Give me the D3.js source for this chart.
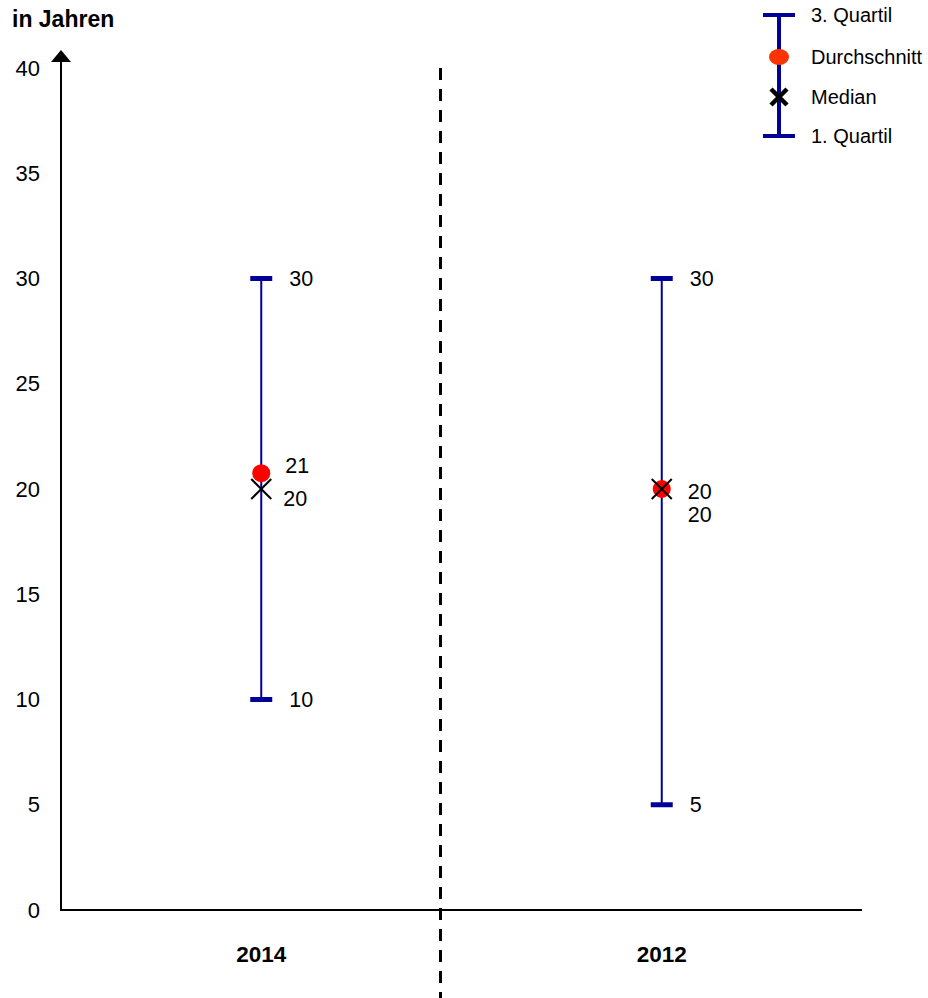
<!DOCTYPE html>
<html><head><meta charset="utf-8">
<script src="https://cdn.jsdelivr.net/npm/d3@7"></script>
<style>body{margin:0;background:#fff;} text{font-family:Arial,"Liberation Sans",sans-serif;}</style>
</head><body>
<svg id="c" width="928" height="998"></svg>
<script>
const categories = ["2014", "2012"];
const q1 = [10, 5];
const q3 = [30, 30];
const mean = [20.75, 20];
const median = [20, 20];
const meanLabels = ["21", "20"];
const medianLabels = ["20", "20"];
const yTicks = [0, 5, 10, 15, 20, 25, 30, 35, 40];

const svg = d3.select("#c");
const x = d3.scaleBand().domain(categories).range([61, 862]).paddingInner(0).paddingOuter(0);
const y = d3.scaleLinear().domain([0, 40]).range([910, 68]);
const navy = "#000099";

// y axis tick labels
svg.append("g").selectAll("text").data(yTicks).join("text")
  .attr("x", 40).attr("y", d => y(d)).attr("dy", "0.35em")
  .attr("text-anchor", "end").attr("font-size", 22).text(d => d);

// axes lines
svg.append("line").attr("x1", 61).attr("x2", 61).attr("y1", 58).attr("y2", y(0)).attr("stroke", "#000").attr("stroke-width", 2);
svg.append("path").attr("d", "M61,50 L51,62 L71,62 Z").attr("fill", "#000");
svg.append("line").attr("x1", 60).attr("x2", 862).attr("y1", y(0)).attr("y2", y(0)).attr("stroke", "#000").attr("stroke-width", 2);

// dashed separator
const sepX = x("2012") - 21;
svg.append("line").attr("x1", sepX).attr("x2", sepX).attr("y1", 68).attr("y2", 998)
  .attr("stroke", "#000").attr("stroke-width", 3).attr("stroke-dasharray", "12,9");

svg.append("text").attr("x", 12).attr("y", 27).attr("font-size", 23).attr("font-weight", "bold").text("in Jahren");

// category labels
svg.append("g").selectAll("text").data(categories).join("text")
  .attr("x", d => x(d) + x.bandwidth()/2).attr("y", 962).attr("text-anchor", "middle")
  .attr("font-size", 22.5).attr("font-weight", "bold").text(d => d);

const data = categories.map((c, i) => ({c, q1: q1[i], q3: q3[i], mean: mean[i], median: median[i], ml: meanLabels[i], mdl: medianLabels[i]}));
const cx = d => x(d.c) + x.bandwidth()/2;

const g = svg.append("g").selectAll("g").data(data).join("g");
g.append("line").attr("x1", cx).attr("x2", cx).attr("y1", d => y(d.q3)).attr("y2", d => y(d.q1)).attr("stroke", navy).attr("stroke-width", 2);
g.append("line").attr("x1", d => cx(d)-11).attr("x2", d => cx(d)+11).attr("y1", d => y(d.q3)).attr("y2", d => y(d.q3)).attr("stroke", navy).attr("stroke-width", 5);
g.append("line").attr("x1", d => cx(d)-11).attr("x2", d => cx(d)+11).attr("y1", d => y(d.q1)).attr("y2", d => y(d.q1)).attr("stroke", navy).attr("stroke-width", 5);
g.append("circle").attr("cx", cx).attr("cy", d => y(d.mean)).attr("r", 9).attr("fill", "#ff0000");
g.append("path").attr("d", d => { const X = cx(d), Y = y(d.median), s = 10; return `M${X-s},${Y-s}L${X+s},${Y+s}M${X-s},${Y+s}L${X+s},${Y-s}`; })
  .attr("stroke", "#000").attr("stroke-width", 2).attr("fill", "none");

// value labels
const fs = 21.5;
g.append("text").attr("x", d => cx(d)+28).attr("y", d => y(d.q3)).attr("dy", "0.35em").attr("font-size", fs).text(d => d.q3);
g.append("text").attr("x", d => cx(d)+28).attr("y", d => y(d.q1)).attr("dy", "0.35em").attr("font-size", fs).text(d => d.q1);
g.append("text").attr("x", (d, i) => cx(d) + (i === 0 ? 24 : 26)).attr("y", (d, i) => i === 0 ? 465 : 491).attr("dy", "0.35em").attr("font-size", fs).text(d => d.ml);
g.append("text").attr("x", (d, i) => cx(d) + (i === 0 ? 22 : 26)).attr("y", (d, i) => i === 0 ? 498 : 514).attr("dy", "0.35em").attr("font-size", fs).text(d => d.mdl);

// legend
const lg = svg.append("g");
const lx = 779;
lg.append("line").attr("x1", lx).attr("x2", lx).attr("y1", 15).attr("y2", 136).attr("stroke", navy).attr("stroke-width", 4);
lg.append("line").attr("x1", lx-16).attr("x2", lx+16).attr("y1", 15).attr("y2", 15).attr("stroke", navy).attr("stroke-width", 4);
lg.append("line").attr("x1", lx-16).attr("x2", lx+16).attr("y1", 136).attr("y2", 136).attr("stroke", navy).attr("stroke-width", 4);
lg.append("ellipse").attr("cx", lx).attr("cy", 57).attr("rx", 10).attr("ry", 8).attr("fill", "#ff3300");
lg.append("path").attr("d", `M${lx-8},${97-8}L${lx+8},${97+8}M${lx-8},${97+8}L${lx+8},${97-8}`).attr("stroke", "#000").attr("stroke-width", 4.5);
const legendItems = [["3. Quartil", 15], ["Durchschnitt", 57], ["Median", 97], ["1. Quartil", 136]];
lg.selectAll("text").data(legendItems).join("text").attr("x", 811).attr("y", d => d[1]).attr("dy", "0.35em").attr("font-size", 20).text(d => d[0]);
</script>
</body></html>
